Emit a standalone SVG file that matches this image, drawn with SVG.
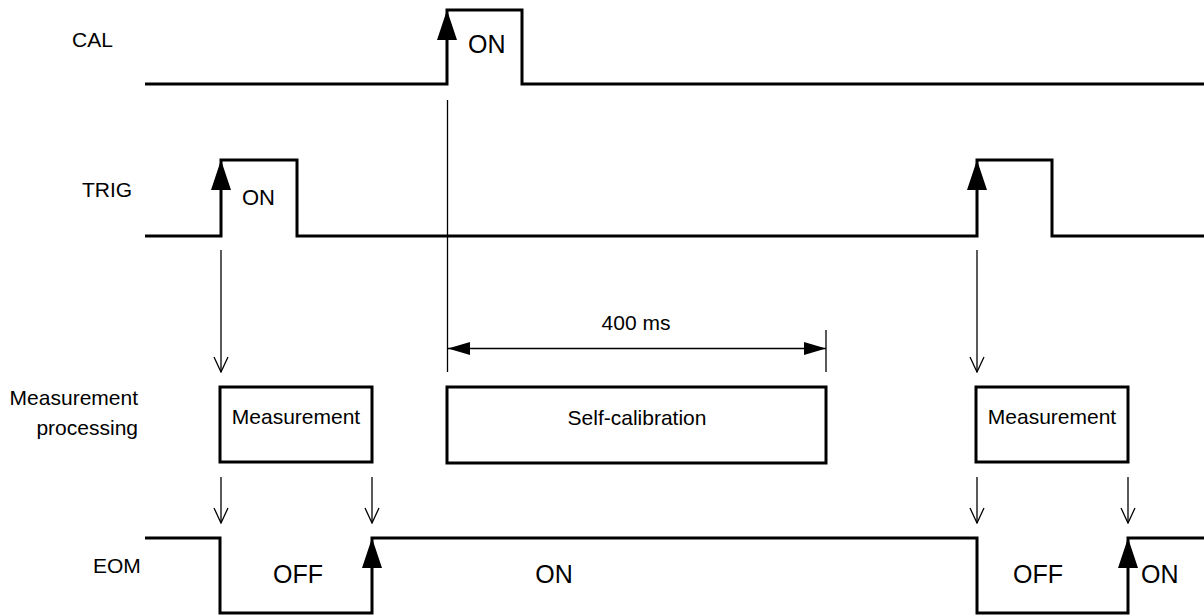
<svg xmlns="http://www.w3.org/2000/svg" xmlns:xlink="http://www.w3.org/1999/xlink" width="1204" height="616" viewBox="0 0 1204 616">
<style>
  text { font-family: "Liberation Sans", Arial, sans-serif; fill: #000; }
  .lbl { font-size: 21px; }
  .big { font-size: 25px; }
  .sig { fill: none; stroke: #000; stroke-width: 3; stroke-linejoin: miter; }
  .box { fill: #fff; stroke: #000; stroke-width: 3; }
  .thin { fill: none; stroke: #000; stroke-width: 1.3; }
  .arr { stroke: #000; stroke-width: 1.3; fill: none; marker-end: url(#open); }
  .head { fill: #000; }
</style>
<defs>
  <marker id="open" markerUnits="userSpaceOnUse" markerWidth="18" markerHeight="18" viewBox="-17 -9 18 18" refX="0" refY="0" orient="auto">
    <path d="M-15,-7 L0,0 L-15,7" fill="none" stroke="#000" stroke-width="1.3"/>
  </marker>
  <marker id="dim" markerUnits="userSpaceOnUse" markerWidth="24" markerHeight="16" viewBox="-23 -8 24 16" refX="0" refY="0" orient="auto-start-reverse">
    <path d="M0,0 L-22,-6.5 L-22,6.5 Z" fill="#000"/>
  </marker>
  <path id="up" d="M0,0 L-10,30 L10,30 Z"/>
</defs>

<g id="labels">
  <text class="lbl" x="72" y="47">CAL</text>
  <text class="lbl" x="82" y="197">TRIG</text>
  <text class="lbl" x="138" y="405" text-anchor="end">Measurement</text>
  <text class="lbl" x="138" y="435" text-anchor="end">processing</text>
  <text class="lbl" x="93" y="573">EOM</text>
</g>

<g id="connectors">
  <line class="thin" x1="447.5" y1="100" x2="447.5" y2="372"/>
  <line class="thin" x1="826" y1="330" x2="826" y2="372"/>
  <line class="thin" x1="448" y1="348.5" x2="826" y2="348.5" marker-start="url(#dim)" marker-end="url(#dim)"/>
  <line class="arr" x1="221" y1="250" x2="221" y2="372"/>
  <line class="arr" x1="977" y1="250" x2="977" y2="372"/>
  <line class="arr" x1="221" y1="477" x2="221" y2="523"/>
  <line class="arr" x1="372" y1="477" x2="372" y2="523"/>
  <line class="arr" x1="977" y1="477" x2="977" y2="523"/>
  <line class="arr" x1="1128" y1="477" x2="1128" y2="523"/>
</g>

<g id="cal">
  <polyline class="sig" points="145,84 447,84 447,10 522,10 522,84 1204,84"/>
  <use href="#up" xlink:href="#up" x="447" y="10" class="head"/>
  <text class="big" x="468" y="53">ON</text>
</g>

<g id="trig">
  <polyline class="sig" points="145,236 221,236 221,160 297,160 297,236 977,236 977,160 1052,160 1052,236 1204,236"/>
  <use href="#up" xlink:href="#up" x="221" y="160" class="head"/>
  <use href="#up" xlink:href="#up" x="977" y="160" class="head"/>
  <text x="242" y="205" style="font-size:22px">ON</text>
</g>

<g id="dim400">
  <text class="lbl" x="636" y="330" text-anchor="middle">400 ms</text>
</g>

<g id="meas1">
  <rect class="box" x="220" y="387" width="152" height="75"/>
  <text class="lbl" x="296" y="424" text-anchor="middle">Measurement</text>
</g>

<g id="selfcal">
  <rect class="box" x="447" y="387" width="379" height="76"/>
  <text class="lbl" x="637" y="425" text-anchor="middle">Self-calibration</text>
</g>

<g id="meas2">
  <rect class="box" x="976" y="387" width="152" height="75"/>
  <text class="lbl" x="1052" y="424" text-anchor="middle">Measurement</text>
</g>

<g id="eom">
  <polyline class="sig" points="145,538 220,538 220,613 372,613 372,538 977,538 977,613 1128,613 1128,538 1204,538"/>
  <use href="#up" xlink:href="#up" x="372" y="538" class="head"/>
  <use href="#up" xlink:href="#up" x="1128" y="538" class="head"/>
  <text class="big" x="298" y="583" text-anchor="middle">OFF</text>
  <text class="big" x="554" y="583" text-anchor="middle">ON</text>
  <text class="big" x="1038" y="583" text-anchor="middle">OFF</text>
  <text class="big" x="1141" y="583">ON</text>
</g>
</svg>
